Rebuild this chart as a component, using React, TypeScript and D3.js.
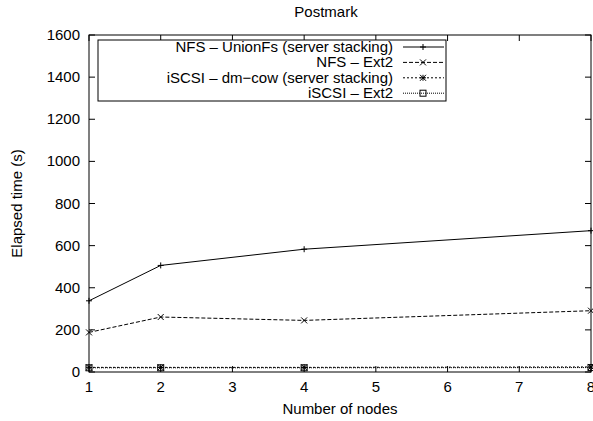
import React from 'react';
import * as d3 from 'd3';

// nodes on the x axis
const nodes = [1, 2, 4, 8];

// elapsed time (s) for every series
const unionFs = [338, 506, 583, 671];
const nfsExt2 = [188, 261, 245, 291];
const iscsiCow = [22, 22, 22, 24];
const iscsiExt2 = [20, 20, 20, 21];

const seriesNames = [
  'NFS – UnionFs (server stacking)',
  'NFS – Ext2',
  'iSCSI – dm−cow (server stacking)',
  'iSCSI – Ext2',
];

const xTicks = [1, 2, 3, 4, 5, 6, 7, 8];
const yTicks = [0, 200, 400, 600, 800, 1000, 1200, 1400, 1600];

const W = 593;
const H = 421;
const margin = { left: 89, right: 2, top: 35, bottom: 49 };
const font = '"Liberation Sans", Arial, Helvetica, sans-serif';

const Marker = ({ kind, x, y }: { kind: string; x: number; y: number }) => {
  const s = 3;
  if (kind === 'plus')
    return <path d={`M${x - s},${y}H${x + s}M${x},${y - s}V${y + s}`} stroke="#000" />;
  if (kind === 'cross')
    return <path d={`M${x - s},${y - s}L${x + s},${y + s}M${x - s},${y + s}L${x + s},${y - s}`} stroke="#000" />;
  if (kind === 'star')
    return (
      <path
        d={`M${x - s},${y}H${x + s}M${x},${y - s}V${y + s}M${x - s},${y - s}L${x + s},${y + s}M${x - s},${y + s}L${x + s},${y - s}`}
        stroke="#000"
      />
    );
  return <rect x={x - s} y={y - s} width={2 * s} height={2 * s} fill="none" stroke="#000" />;
};

export default function App() {
  const x = d3.scaleLinear().domain([1, 8]).range([margin.left, W - margin.right]);
  const y = d3.scaleLinear().domain([0, 1600]).range([H - margin.bottom, margin.top]);

  const series = [
    { name: seriesNames[0], values: unionFs, dash: 'none', marker: 'plus' },
    { name: seriesNames[1], values: nfsExt2, dash: '4,2', marker: 'cross' },
    { name: seriesNames[2], values: iscsiCow, dash: '2,2', marker: 'star' },
    { name: seriesNames[3], values: iscsiExt2, dash: '1,1', marker: 'box' },
  ];

  const line = d3
    .line<number>()
    .x((d, i) => x(nodes[i]))
    .y((d) => y(d));

  const [x0, x1] = x.range();
  const [y0, y1] = y.range();
  const tick = 6;

  return (
    <svg
      width={W}
      height={H}
      style={{ position: 'absolute', top: 0, left: 0, background: '#fff' }}
      fontFamily={font}
      fontSize={15}
    >
      <text x={326} y={17} textAnchor="middle">Postmark</text>

      {/* ticks, mirrored like gnuplot */}
      {yTicks.map((t) => (
        <g key={'y' + t}>
          <path d={`M${x0},${y(t)}h${tick}M${x1},${y(t)}h${-tick}`} stroke="#000" />
          <text x={x0 - 9} y={y(t) + 5} textAnchor="end">{t}</text>
        </g>
      ))}
      {xTicks.map((t) => (
        <g key={'x' + t}>
          <path d={`M${x(t)},${y0}v${-tick}M${x(t)},${y1}v${tick}`} stroke="#000" />
          <text x={x(t)} y={y0 + 20} textAnchor="middle">{t}</text>
        </g>
      ))}

      {/* series */}
      {series.map((s) => (
        <g key={s.name}>
          <path d={line(s.values) || ''} fill="none" stroke="#000" strokeDasharray={s.dash} />
          {s.values.map((v, i) => (
            <Marker key={i} kind={s.marker} x={x(nodes[i])} y={y(v)} />
          ))}
        </g>
      ))}

      <rect x={x0} y={y1} width={x1 - x0} height={y0 - y1} fill="none" stroke="#000" />

      {/* legend */}
      <rect x={98} y={40} width={348} height={61} fill="#fff" stroke="#000" />
      {series.map((s, i) => {
        const ly = 47 + i * 15.4;
        return (
          <g key={'l' + s.name}>
            <text x={393} y={ly + 5} textAnchor="end">{s.name}</text>
            <path d={`M403,${ly}H444`} stroke="#000" strokeDasharray={s.dash} />
            <Marker kind={s.marker} x={423} y={ly} />
          </g>
        );
      })}

      <text x={x0 + (x1 - x0) / 2} y={414} textAnchor="middle">Number of nodes</text>
      <text transform={`translate(22,${(y0 + y1) / 2}) rotate(-90)`} textAnchor="middle">
        Elapsed time (s)
      </text>
    </svg>
  );
}
